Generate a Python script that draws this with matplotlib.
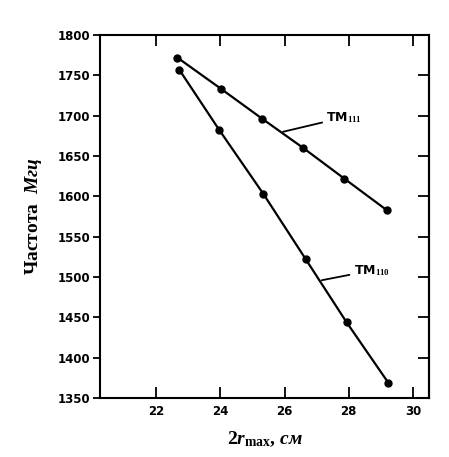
import matplotlib
matplotlib.use("Agg")
import matplotlib.pyplot as plt

plt.rcParams["mathtext.fontset"] = "custom"
plt.rcParams["mathtext.rm"] = "Liberation Serif:bold"
plt.rcParams["mathtext.it"] = "Liberation Serif:italic:bold"
plt.rcParams["mathtext.bf"] = "Liberation Serif:bold"

# TM111 mode
x_111 = [22.66, 24.03, 25.31, 26.58, 27.86, 29.18]
f_111 = [1772, 1733, 1696, 1660, 1622, 1583]
# TM110 mode
x_110 = [22.72, 23.97, 25.34, 26.66, 27.93, 29.23]
f_110 = [1757, 1682, 1603, 1522, 1444, 1369]

xticks = [22, 24, 26, 28, 30]
yticks = [1350, 1400, 1450, 1500, 1550, 1600, 1650, 1700, 1750, 1800]

fig = plt.figure(figsize=(4.49, 4.57), dpi=100)
ax = fig.add_axes([0.2227, 0.1291, 0.7328, 0.7943])

ax.plot(x_111, f_111, color="black", lw=1.6, marker="o", ms=5)
ax.plot(x_110, f_110, color="black", lw=1.6, marker="o", ms=5)

ax.set_xlim(20.25, 30.5)
ax.set_ylim(1350, 1800)
ax.set_xticks(xticks)
ax.set_yticks(yticks)
ax.tick_params(axis="x", direction="in", length=8, width=1.3, top=True,
               labelsize=8.5, pad=5)
ax.tick_params(axis="y", direction="out", length=5, width=1.3, right=False,
               labelsize=8.5, pad=2)
for lab in ax.get_xticklabels() + ax.get_yticklabels():
    lab.set_fontweight("bold")
for sp in ax.spines.values():
    sp.set_linewidth(1.5)

# right-side ticks point inward
sec = ax.secondary_yaxis("right")
sec.set_yticks(yticks)
sec.tick_params(direction="in", length=8, width=1.3, labelright=False)
sec.spines["right"].set_linewidth(1.5)

# curve labels with leader lines
ax.annotate(r"TM$_{111}$", xy=(25.95, 1680), xytext=(27.3, 1698),
            fontsize=9, fontweight="bold", va="center",
            arrowprops=dict(arrowstyle="-", color="black", lw=1.3, shrinkB=0, shrinkA=1))
ax.annotate(r"TM$_{110}$", xy=(27.16, 1496), xytext=(28.15, 1508),
            fontsize=9, fontweight="bold", va="center",
            arrowprops=dict(arrowstyle="-", color="black", lw=1.3, shrinkB=0, shrinkA=1))

ax.set_ylabel(r"Частота  $\mathit{Мгц}$", fontsize=14, fontweight="bold",
              family="Liberation Serif", labelpad=10)
ax.set_xlabel(r"2$r_{\mathrm{max}}$, $\mathit{см}$", fontsize=14,
              fontweight="bold", family="Liberation Serif", labelpad=8)

fig.savefig("out.png", dpi=100)
